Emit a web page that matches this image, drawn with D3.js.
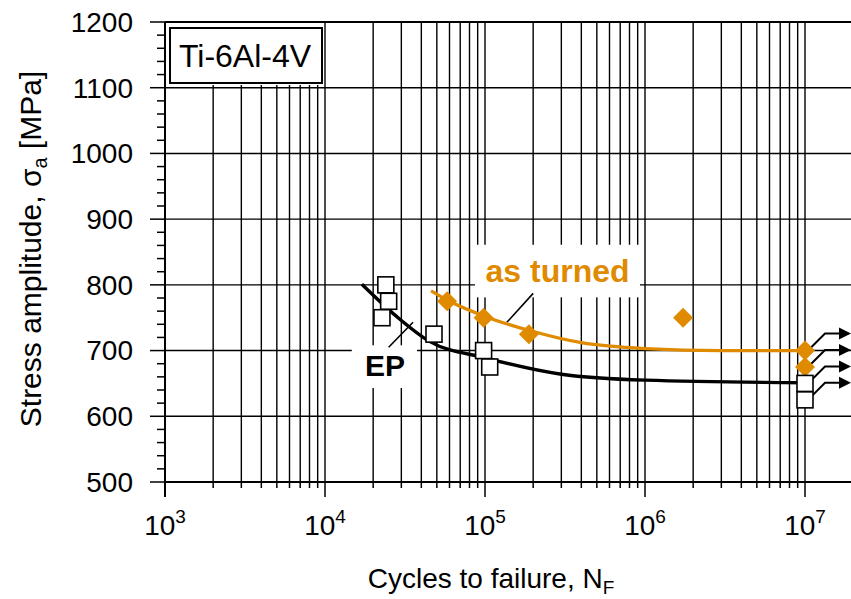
<!DOCTYPE html>
<html>
<head>
<meta charset="utf-8">
<script src="https://cdn.jsdelivr.net/npm/d3@7"></script>
<style>
  body { margin: 0; background: #fff; }
  text { font-family: "Liberation Sans", Arial, sans-serif; }
</style>
</head>
<body>
<svg width="851" height="599"></svg>
<script>
// EP specimens (open squares)
const epCycles = [2.4e4, 2.5e4, 2.27e4, 4.8e4, 9.8e4, 1.07e5, 1e7, 1e7];
const epStress = [800, 775, 750, 725, 700, 675, 650, 625];
const epRunout = [false, false, false, false, false, false, true, true];

// as turned specimens (orange diamonds)
const atCycles = [5.8e4, 9.8e4, 1.88e5, 1.73e6, 1e7, 1e7];
const atStress = [775, 750, 725, 750, 700, 675];
const atRunout = [false, false, false, false, true, true];

// fitted curves
const epFitCycles = [1.7e4, 2.8e4, 4.5e4, 1e5, 3e5, 1e6, 1e7];
const epFitStress = [801, 752, 714, 689, 664, 655, 651];
const atFitCycles = [4.6e4, 6e4, 1e5, 2e5, 4e5, 1e6, 3e6, 1e7];
const atFitStress = [791, 775, 752, 729, 712, 703, 700, 700];

// axes
const yTicks = [500, 600, 700, 800, 900, 1000, 1100, 1200];
const xExponents = [3, 4, 5, 6, 7];

const orange = "#e08a00";
const svg = d3.select("svg");
const W = 851;

const x = d3.scaleLog().domain([1e3, 1e7]).range([165, 805]);
const y = d3.scaleLinear().domain([500, 1200]).range([482, 22]);
const xMax = x.invert(W);

const grid = svg.append("g").attr("stroke", "#000").attr("stroke-width", 1.4);

// vertical grid lines at 1..9 x 10^k
const xGrid = [];
xExponents.forEach(e => {
  for (let m = 1; m <= 9; m++) {
    const v = m * Math.pow(10, e);
    if (v > 1e3 && v <= xMax) xGrid.push(v);
  }
});
grid.selectAll(".vg").data(xGrid).join("line")
  .attr("x1", d => x(d)).attr("x2", d => x(d))
  .attr("y1", y(1200)).attr("y2", y(500));

// horizontal grid lines
grid.selectAll(".hg").data(yTicks.filter(d => d > 500)).join("line")
  .attr("x1", x(1e3)).attr("x2", W)
  .attr("y1", d => y(d)).attr("y2", d => y(d));

// white label backgrounds that cut the grid
const labels = svg.append("g");
labels.append("rect") // Ti box background
  .attr("x", x(1e3) + 1).attr("y", y(1200) + 1)
  .attr("width", 158).attr("height", 62).attr("fill", "#fff");
labels.append("rect")
  .attr("x", 170).attr("y", 28).attr("width", 152).attr("height", 55)
  .attr("fill", "#fff").attr("stroke", "#000").attr("stroke-width", 2);
labels.append("text")
  .attr("x", 245).attr("y", 67).attr("text-anchor", "middle")
  .attr("font-size", 32).text("Ti-6Al-4V");

// "as turned" label
labels.append("rect")
  .attr("x", x(8.66e4)).attr("y", y(861))
  .attr("width", x(9.3e5) - x(8.66e4)).attr("height", y(781) - y(861))
  .attr("fill", "#fff");
labels.append("text")
  .attr("x", x(2.84e5)).attr("y", y(804)).attr("text-anchor", "middle")
  .attr("font-size", 32).attr("font-weight", "bold").attr("fill", orange)
  .text("as turned");
labels.append("line")
  .attr("x1", x(1.37e5)).attr("y1", y(743)).attr("x2", x(2e5)).attr("y2", y(787))
  .attr("stroke", "#000").attr("stroke-width", 1.6);

// "EP" label
labels.append("rect")
  .attr("x", x(1.47e4)).attr("y", y(708))
  .attr("width", x(3.76e4) - x(1.47e4)).attr("height", y(643) - y(708))
  .attr("fill", "#fff");
labels.append("text")
  .attr("x", x(2.37e4)).attr("y", y(662)).attr("text-anchor", "middle")
  .attr("font-size", 30).attr("font-weight", "bold").text("EP");
labels.append("line")
  .attr("x1", x(2.5e4)).attr("y1", y(705)).attr("x2", x(3.55e4)).attr("y2", y(743))
  .attr("stroke", "#000").attr("stroke-width", 1.6);

// axes
const ax = svg.append("g").attr("stroke", "#000");
ax.append("line").attr("x1", x(1e3)).attr("x2", W).attr("y1", y(500)).attr("y2", y(500)).attr("stroke-width", 2);
ax.append("line").attr("x1", x(1e3)).attr("x2", x(1e3)).attr("y1", y(1200)).attr("y2", y(500) + 15).attr("stroke-width", 2);
ax.append("line").attr("x1", x(1e3)).attr("x2", W).attr("y1", y(1200)).attr("y2", y(1200)).attr("stroke-width", 2);

// x ticks
ax.selectAll(".xt").data(xGrid).join("line")
  .attr("stroke-width", 1.5)
  .attr("x1", d => x(d)).attr("x2", d => x(d))
  .attr("y1", y(500))
  .attr("y2", d => y(500) + (Math.abs(Math.log10(d) % 1) < 1e-9 ? 15 : 6));

// y ticks (major every 100, minor every 20)
const yMinor = d3.range(500, 1201, 20);
ax.selectAll(".yt").data(yMinor).join("line")
  .attr("stroke-width", 1.5)
  .attr("x1", d => x(1e3) - (d % 100 === 0 ? 15 : 8)).attr("x2", x(1e3))
  .attr("y1", d => y(d)).attr("y2", d => y(d));

svg.selectAll(".yl").data(yTicks).join("text")
  .attr("x", 133).attr("y", d => y(d)).attr("dy", "0.35em")
  .attr("text-anchor", "end").attr("font-size", 28).text(d => d);

const xl = svg.selectAll(".xl").data(xExponents).join("text")
  .attr("x", d => x(Math.pow(10, d))).attr("y", 535)
  .attr("text-anchor", "middle").attr("font-size", 28);
xl.append("tspan").text("10");
xl.append("tspan").attr("font-size", 19).attr("dy", -12).text(d => d);

// axis titles
const xt = svg.append("text").attr("x", 491).attr("y", 588)
  .attr("text-anchor", "middle").attr("font-size", 28);
xt.append("tspan").text("Cycles to failure, N");
xt.append("tspan").attr("font-size", 19).attr("dy", 6).text("F");

const yt = svg.append("text").attr("transform", "translate(41,249) rotate(-90)")
  .attr("text-anchor", "middle").attr("font-size", 30);
yt.append("tspan").text("Stress amplitude, σ");
yt.append("tspan").attr("font-size", 20).attr("dy", 6).text("a");
yt.append("tspan").attr("dy", -6).text(" [MPa]");

// fitted curves
const line = d3.line().x(d => x(d[0])).y(d => y(d[1])).curve(d3.curveMonotoneX);
svg.append("path").datum(d3.zip(epFitCycles, epFitStress))
  .attr("d", line).attr("fill", "none").attr("stroke", "#000").attr("stroke-width", 3.4);
svg.append("path").datum(d3.zip(atFitCycles, atFitStress))
  .attr("d", line).attr("fill", "none").attr("stroke", orange).attr("stroke-width", 3.2);

// runout arrows
const runouts = [];
atCycles.forEach((c, i) => { if (atRunout[i]) runouts.push([c, atStress[i]]); });
epCycles.forEach((c, i) => { if (epRunout[i]) runouts.push([c, epStress[i]]); });
const arrows = svg.append("g");
runouts.forEach(d => {
  const cx = x(d[0]), cy = y(d[1]);
  arrows.append("polyline")
    .attr("points", [[cx + 6, cy - 3], [cx + 20, cy - 17], [W - 8, cy - 17]].join(" "))
    .attr("fill", "none").attr("stroke", "#000").attr("stroke-width", 2);
  arrows.append("polygon")
    .attr("points", [[W - 12, cy - 23], [W, cy - 17], [W - 12, cy - 11]].join(" "))
    .attr("fill", "#000");
});

// as turned markers
svg.selectAll(".dm").data(d3.zip(atCycles, atStress)).join("path")
  .attr("d", "M0,-10L10,0L0,10L-10,0Z")
  .attr("transform", d => `translate(${x(d[0])},${y(d[1])})`)
  .attr("fill", orange);

// EP markers
svg.selectAll(".sq").data(d3.zip(epCycles, epStress)).join("rect")
  .attr("x", d => x(d[0]) - 8).attr("y", d => y(d[1]) - 8)
  .attr("width", 16).attr("height", 16)
  .attr("fill", "#fff").attr("stroke", "#000").attr("stroke-width", 1.6);
</script>
</body>
</html>
